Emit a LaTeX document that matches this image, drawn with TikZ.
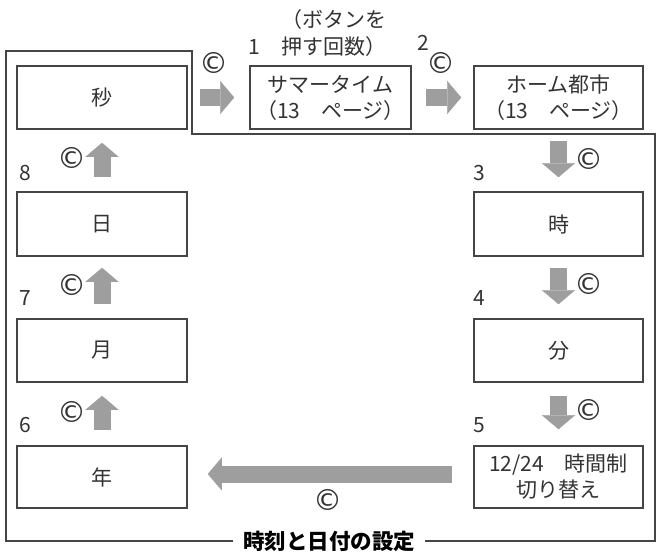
\documentclass[tikz,border=0pt]{standalone}
\usepackage{fontspec}
\setmainfont{Noto Sans CJK JP}
\newfontfamily\symfont{DejaVu Sans}
\usetikzlibrary{arrows.meta}
\definecolor{arrowgray}{HTML}{9E9E9E}
\definecolor{linegray}{HTML}{454545}
\definecolor{textgray}{HTML}{333333}
\begin{document}
\begin{tikzpicture}[x=1pt,y=-1pt,
  stepbox/.style={draw=linegray,line width=1.6pt,minimum width=170pt,minimum height=63pt,inner sep=0pt,align=center,font=\fontsize{21}{26}\selectfont,text=textgray},
  blockarrow/.style={draw=arrowgray,line width=17pt,-{Triangle[width=33pt,length=14pt,line width=0.1pt]}},
  lbl/.style={font=\fontsize{21}{27}\selectfont,text=textgray,inner sep=0pt,align=center},
  cmark/.style={font=\symfont\fontsize{29}{29}\selectfont,text=textgray,inner sep=0pt},
  frameline/.style={draw=linegray,line width=1.3pt}]
\useasboundingbox (0,0) rectangle (659,554);
% frame
\draw[frameline] (6,51) -- (192,51) -- (192,134) -- (655,134) -- (655,541) -- (6,541) -- cycle;
\node[fill=white,inner xsep=10pt,inner ysep=2pt,font=\fontsize{21.5}{21.5}\selectfont\bfseries,text=black] (title) at (329,541) {時刻と日付の設定};
% boxes
\node[stepbox] (byo) at (102,97.5) {秒};
\node[stepbox,minimum width=161pt] (summer) at (330.5,97.5) {サマータイム\\（13　ページ）};
\node[stepbox,minimum width=169pt] (home) at (558.5,97.5) {ホーム都市\\（13　ページ）};
\node[stepbox,minimum width=169pt,minimum height=64pt] (ji) at (558.5,224) {時};
\node[stepbox,minimum width=169pt] (fun) at (558.5,350.5) {分};
\node[stepbox,minimum width=169pt,minimum height=62pt] (sel) at (558.5,477) {12/24　時間制\\切り替え};
\node[stepbox,minimum height=64pt] (hi) at (102,224) {日};
\node[stepbox] (tsuki) at (102,350.5) {月};
\node[stepbox,minimum height=62pt] (nen) at (102,477) {年};
% arrows
\draw[blockarrow,shorten <=12pt,shorten >=15pt] (byo.east) -- (summer.west);
\draw[blockarrow,shorten <=14pt,shorten >=12pt] (summer.east) -- (home.west);
\draw[blockarrow,shorten <=11pt,shorten >=14pt] (home.south) -- (ji.north);
\draw[blockarrow,shorten <=11pt,shorten >=14pt] (ji.south) -- (fun.north);
\draw[blockarrow,shorten <=13pt,shorten >=16pt] (fun.south) -- (sel.north);
\draw[blockarrow,shorten <=21pt,shorten >=20pt] ([yshift=3pt]sel.west) -- ([yshift=3pt]nen.east);
\draw[blockarrow,shorten <=15pt,shorten >=13pt] (nen.north) -- (tsuki.south);
\draw[blockarrow,shorten <=14pt,shorten >=11pt] (tsuki.north) -- (hi.south);
\draw[blockarrow,shorten <=14pt,shorten >=13pt] (hi.north) -- (byo.south);
% labels
\node[lbl] (hint) at (334,33) {（ボタンを\\押す回数）};
\node[lbl] (n1) at (254,47) {1};
\node[lbl] (n2) at (423,43) {2};
\node[lbl] (n3) at (479,173) {3};
\node[lbl] (n4) at (479,298) {4};
\node[lbl] (n5) at (479,425) {5};
\node[lbl] (n6) at (25,425) {6};
\node[lbl] (n7) at (25,298) {7};
\node[lbl] (n8) at (25,173) {8};
\node[cmark] (c1) at (214,63) {©};
\node[cmark] (c2) at (441,63) {©};
\node[cmark] (c3) at (589,159) {©};
\node[cmark] (c4) at (589,284) {©};
\node[cmark] (c5) at (589,410) {©};
\node[cmark] (c6) at (72,412) {©};
\node[cmark] (c7) at (72,285) {©};
\node[cmark] (c8) at (72,158) {©};
\node[cmark] (c9) at (328,500) {©};
\end{tikzpicture}
\end{document}
